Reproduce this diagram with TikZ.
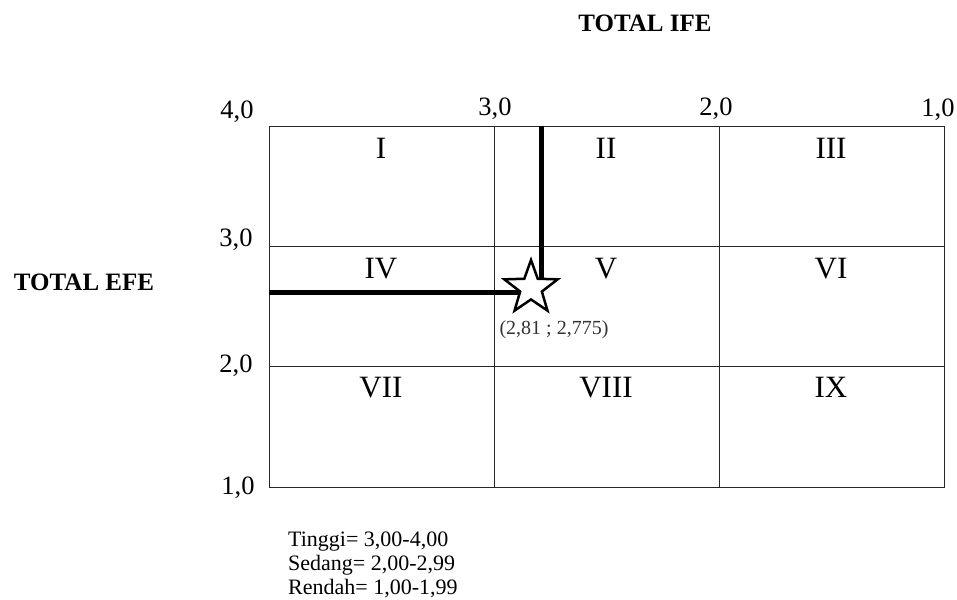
\documentclass[tikz,border=0pt]{standalone}
\usepackage{fontspec}
\setmainfont{Liberation Serif}
\usetikzlibrary{shapes.geometric}
\begin{document}
\begin{tikzpicture}[x=1pt,y=-1pt,
  grid/.style={draw=black!85, line width=1pt},
  axnum/.style={font=\fontsize{26.5}{26.5}\selectfont, anchor=base, inner sep=0},
  roman/.style={font=\fontsize{31}{31}\selectfont, anchor=base, inner sep=0},
  title/.style={font=\bfseries\fontsize{25}{25}\selectfont, anchor=base, inner sep=0},
  legend/.style={font=\fontsize{22}{22}\selectfont, anchor=base west, inner sep=0},
  posline/.style={line width=5pt},
  mark star/.style={star, star points=5, star point ratio=2.45, minimum size=56pt, inner sep=0, draw=black, line width=2.5pt, fill=white}]
\useasboundingbox (0,0) rectangle (957,599);
% grid
\draw[grid] (269,126) rectangle (944,487);
\draw[grid] (494,126) -- (494,487);
\draw[grid] (719,126) -- (719,487);
\draw[grid] (269,246) -- (944,246);
\draw[grid] (269,366) -- (944,366);
% titles
\node[title] (ife) at (645,32) {TOTAL IFE};
\node[title] (efe) at (84,290) {TOTAL EFE};
% axis numbers
\node[axnum] (t4) at (237,118) {4,0};
\node[axnum] (t3) at (495,116) {3,0};
\node[axnum] (t2) at (716,116) {2,0};
\node[axnum] (t1) at (938,117) {1,0};
\node[axnum] (l3) at (236,246) {3,0};
\node[axnum] (l2) at (236,372) {2,0};
\node[axnum] (l1) at (238,494) {1,0};
% roman numerals
\node[roman] (r1) at (381,158) {I};
\node[roman] (r2) at (606,158) {II};
\node[roman] (r3) at (831,158) {III};
\node[roman] (r4) at (381,278) {IV};
\node[roman] (r5) at (606,278) {V};
\node[roman] (r6) at (831,278) {VI};
\node[roman] (r7) at (381,397) {VII};
\node[roman] (r8) at (606,397) {VIII};
\node[roman] (r9) at (831,397) {IX};
% position lines and star
\coordinate (vtop) at (541,126);
\coordinate (vend) at (541,282);
\coordinate (hleft) at (269,292);
\coordinate (hend) at (520,292);
\draw[posline] (vtop) -- (vend);
\draw[posline] (hleft) -- (hend);
\node[mark star] (s) at (531,288) {};
\node[font=\fontsize{20}{20}\selectfont, text=black!80, anchor=base, inner sep=0] (pt) at (554,334) {(2,81 ; 2,775)};
% legend
\node[legend] (lg1) at (288,546) {Tinggi= 3,00-4,00};
\node[legend] (lg2) at (288,570) {Sedang= 2,00-2,99};
\node[legend] (lg3) at (288,594) {Rendah= 1,00-1,99};
\end{tikzpicture}
\end{document}
